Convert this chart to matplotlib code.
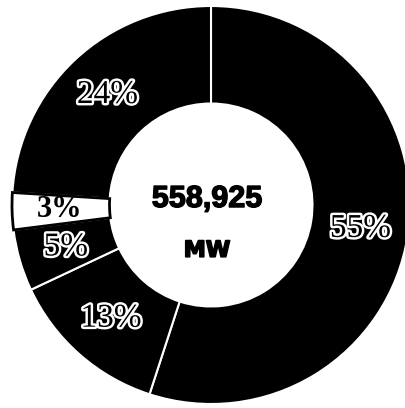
import numpy as np
import matplotlib.pyplot as plt
import matplotlib.patheffects as pe

# installed capacity shares by source, total in MW
shares = [55, 13, 5, 3, 24]
colors = ['black', 'black', 'black', 'white', 'black']
total_mw = '558,925'
unit = 'MW'

fig = plt.figure(figsize=(4.06, 4.08), dpi=100)
ax = fig.add_axes([0, 0, 1, 1])

wedges, texts = ax.pie(shares, colors=colors, startangle=90, counterclock=False,
                       radius=1.0,
                       wedgeprops=dict(width=0.49, edgecolor='white', linewidth=1.5))
# the light slice gets a dark outline so it stays visible
wedges[3].set_edgecolor('black')
wedges[3].set_linewidth(2)
wedges[3].set_zorder(3)

cum = np.cumsum([0] + shares)
for i, s in enumerate(shares):
    mid = np.deg2rad((cum[i] + s / 2) / 100 * 360)
    x, y = 0.76 * np.sin(mid), 0.76 * np.cos(mid)
    if colors[i] == 'white':
        ax.text(x, y, f'{s}%', ha='center', va='center', fontsize=22,
                family='Liberation Serif', fontweight='bold', color='black', zorder=5)
    else:
        ax.text(x, y, f'{s}%', ha='center', va='center', fontsize=24,
                family='Liberation Serif', color='black', zorder=5,
                path_effects=[pe.withStroke(linewidth=3.5, foreground='white')])

ax.text(-0.02, 0.03, total_mw, ha='center', va='center', fontsize=22,
        family='Liberation Sans', fontweight='bold', color='black',
        path_effects=[pe.withStroke(linewidth=1, foreground='black')])
ax.text(-0.02, -0.23, unit, ha='center', va='center', fontsize=16,
        family='DejaVu Sans', fontweight='bold', color='black',
        path_effects=[pe.withStroke(linewidth=1.2, foreground='black')])

ax.set_xlim(-211 / 199, 195 / 199)
ax.set_ylim(-203 / 199, 205 / 199)
ax.set_aspect('auto')
ax.axis('off')

fig.savefig('out.png', dpi=100, facecolor='white')
